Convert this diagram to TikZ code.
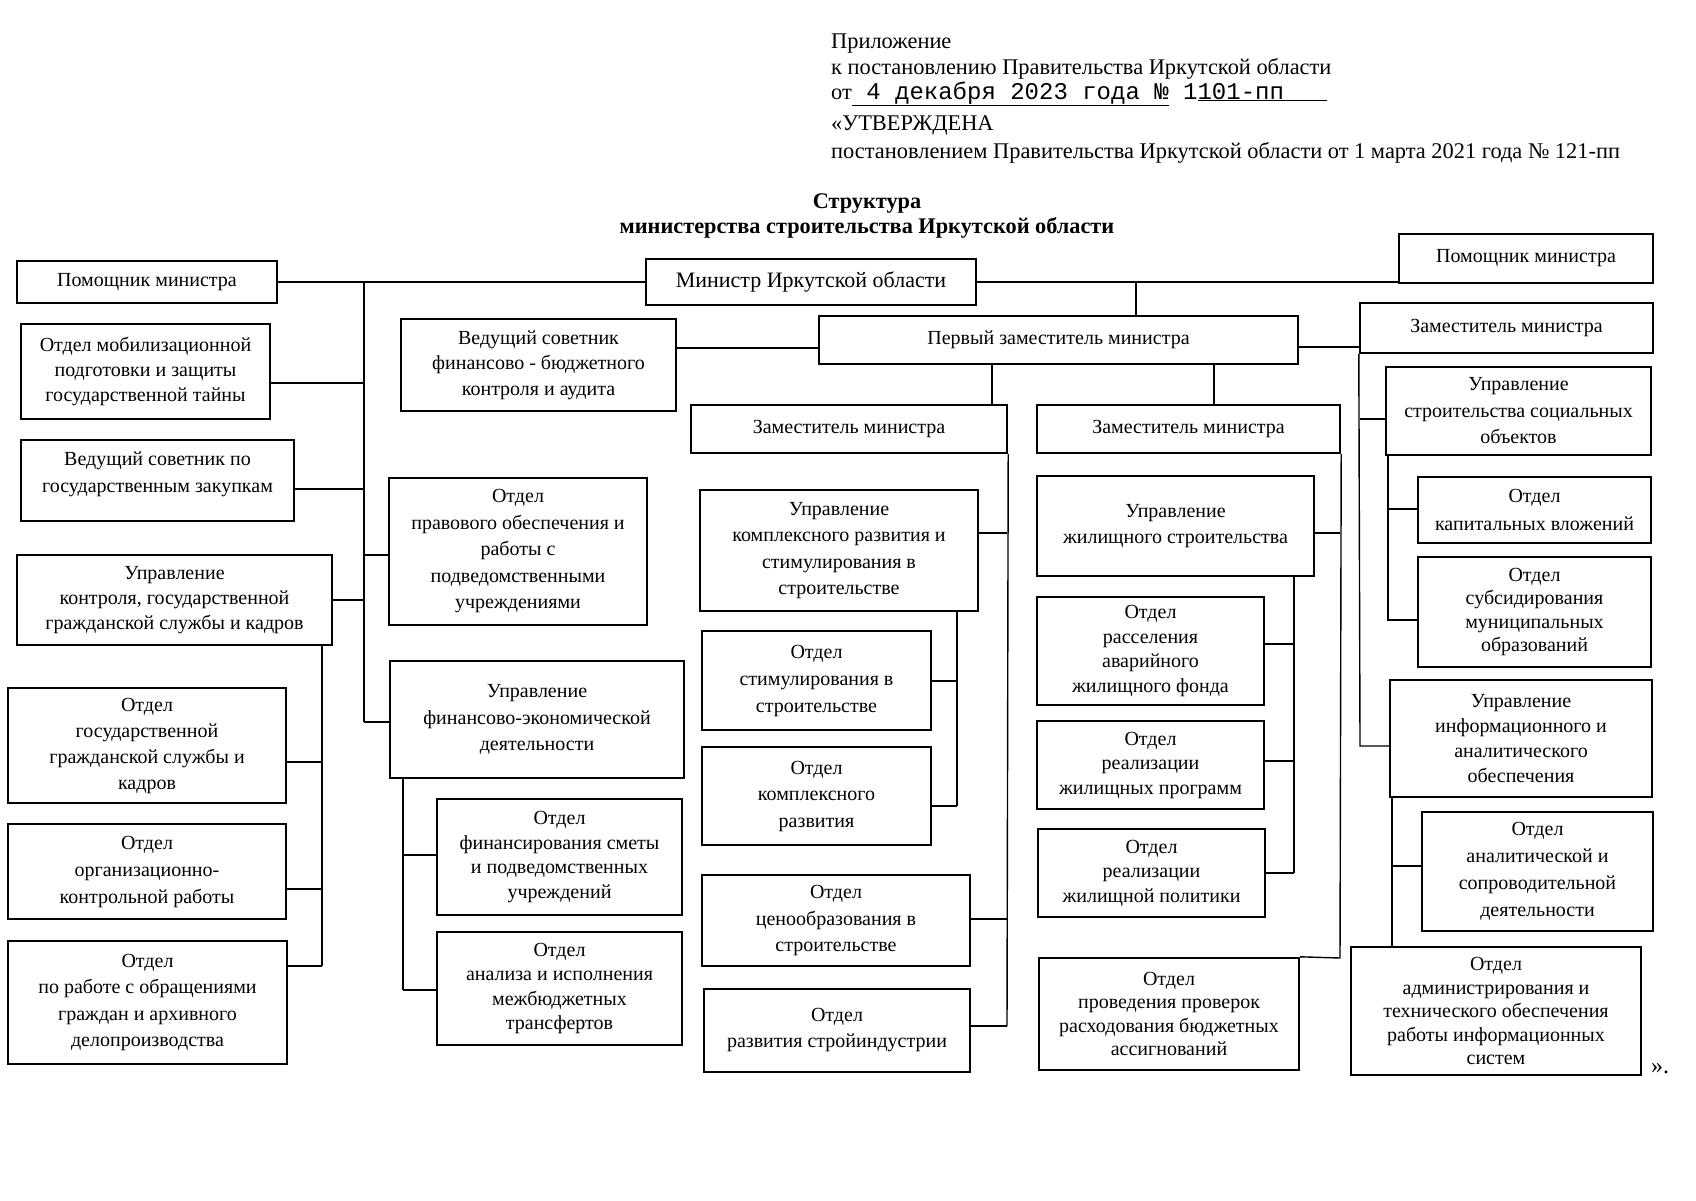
\documentclass[tikz,border=0pt]{standalone}
\usepackage{fontspec}
\setmainfont{Liberation Serif}
\newfontfamily\monof{Liberation Mono}
\usetikzlibrary{calc}
\tikzset{
  orgbox/.style={draw, line width=2.4pt, align=center, inner sep=0pt,
    font=\fontsize{20}{26.5}\selectfont},
  tight/.style={font=\fontsize{20}{23.5}\selectfont},
  mid/.style={font=\fontsize{20}{24.5}\selectfont},
  conn/.style={line width=1.4pt},
  hdr/.style={anchor=base west, inner sep=0pt, font=\fontsize{22.4}{26}\selectfont},
  ttl/.style={anchor=base, inner sep=0pt, font=\fontsize{22.3}{26}\selectfont\bfseries}
}
\newcommand\bx[7][]{%
  \node[orgbox,#1, minimum width={(#5)-(#3)}, minimum height={(#6)-(#4)}]
    (#2) at ({((#3)+(#5))/2},{((#4)+(#6))/2}) {#7};}
\begin{document}
\begin{tikzpicture}[x=1pt,y=-1pt]
\useasboundingbox[fill=white] (0,0) rectangle (1696,1200);

% header
\node[hdr] (h1) at (831,48) {Приложение};
\node[hdr] (h2) at (831,74) {к постановлению Правительства Иркутской области};
\node[hdr] (h3) at (831,99) {от\underline{\monof\fontsize{24}{26}\selectfont\ 4 декабря 2023 года №}{\monof\fontsize{24}{26}\selectfont\ 1\underline{101-пп\ \ \ }}};
\node[hdr] (h4) at (831,130) {«УТВЕРЖДЕНА};
\node[hdr] (h5) at (831,158) {постановлением Правительства Иркутской области от 1 марта 2021 года № 121-пп};
\node[ttl] (t1) at (867,208) {Структура};
\node[ttl] (t2) at (867,233) {министерства строительства Иркутской области};

% boxes
\bx{pomL}{17}{261}{277}{303}{Помощник министра}
\bx[font=\fontsize{22}{26}\selectfont]{min}{646}{259}{976}{305}{Министр Иркутской области}
\bx{pomR}{1399}{234}{1653}{283}{Помощник министра}
\bx[font=\fontsize{20}{25.4}\selectfont]{mob}{21}{324}{270}{419}{Отдел мобилизационной\\подготовки и защиты\\государственной тайны}
\bx[font=\fontsize{20}{25.4}\selectfont]{vedFin}{401}{319}{676}{411}{Ведущий советник\\финансово - бюджетного\\контроля и аудита}
\bx{perv}{819}{316}{1298}{364}{Первый заместитель министра}
\bx{zamR}{1360}{303}{1653}{353}{Заместитель министра}
\bx{vedZak}{21}{440}{294}{521}{Ведущий советник по\\государственным закупкам\\[-10pt]}
\bx{zamML}{691}{405}{1007}{453}{Заместитель министра}
\bx{zamMR}{1037}{405}{1340}{453}{Заместитель министра}
\bx{uprSoc}{1386}{367}{1651}{455}{Управление\\строительства социальных\\объектов}
\bx{otdPrav}{389}{478}{647}{625}{Отдел\\правового обеспечения и\\работы с\\подведомственными\\учреждениями}
\bx{uprKomp}{700}{490}{978}{611}{Управление\\комплексного развития и\\стимулирования в\\строительстве}
\bx{uprZhil}{1037}{476}{1314}{576}{Управление\\жилищного строительства}
\bx[font=\fontsize{20}{28}\selectfont]{otdKap}{1418}{477}{1651}{543}{Отдел\\капитальных вложений}
\bx[font=\fontsize{20}{25.4}\selectfont]{uprKontr}{17}{555}{332}{645}{Управление\\контроля, государственной\\гражданской службы и кадров}
\bx[tight]{otdSubs}{1418}{557}{1651}{667}{Отдел\\субсидирования\\муниципальных\\образований}
\bx[font=\fontsize{20}{27}\selectfont]{otdStim}{702}{631}{931}{730}{Отдел\\стимулирования в\\строительстве}
\bx[mid]{otdRass}{1037}{597}{1264}{705}{Отдел\\расселения\\аварийного\\жилищного фонда}
\bx{uprFin}{390}{661}{684}{778}{Управление\\финансово-экономической\\деятельности}
\bx[font=\fontsize{20}{25}\selectfont]{uprInf}{1390}{680}{1652}{797}{Управление\\информационного и\\аналитического\\обеспечения}
\bx[font=\fontsize{20}{26}\selectfont]{otdGos}{8}{688}{286}{803}{Отдел\\государственной\\гражданской службы и\\кадров}
\bx[mid]{otdRealProg}{1037}{721}{1264}{809}{Отдел\\реализации\\жилищных программ}
\bx{otdKompR}{702}{747}{931}{845}{Отдел\\комплексного\\развития}
\bx[mid]{otdFinSm}{437}{799}{682}{915}{Отдел\\финансирования сметы\\и подведомственных\\учреждений}
\bx[font=\fontsize{20}{27}\selectfont]{otdOrg}{8}{824}{286}{919}{Отдел\\организационно-\\контрольной работы}
\bx[font=\fontsize{20}{27}\selectfont]{otdAnal}{1422}{812}{1653}{931}{Отдел\\аналитической и\\сопроводительной\\деятельности}
\bx[mid]{otdRealPol}{1038}{829}{1265}{917}{Отдел\\реализации\\жилищной политики}
\bx{otdCen}{702}{875}{970}{966}{Отдел\\ценообразования в\\строительстве}
\bx{otdObr}{8}{941}{287}{1064}{Отдел\\по работе с обращениями\\граждан и архивного\\делопроизводства}
\bx[mid]{otdAnIsp}{437}{932}{682}{1045}{Отдел\\анализа и исполнения\\межбюджетных\\трансфертов}
\bx[tight]{otdProv}{1039}{958}{1299}{1070}{Отдел\\проведения проверок\\расходования бюджетных\\ассигнований}
\bx[tight]{otdAdm}{1351}{947}{1641}{1075}{Отдел\\администрирования и\\технического обеспечения\\работы информационных\\систем}
\bx[font=\fontsize{20}{26}\selectfont]{otdStroy}{704}{989}{970}{1072}{Отдел\\развития стройиндустрии}
\node[hdr, font=\fontsize{24}{26}\selectfont] (endq) at (1651,1073) {».};

% junction coordinates
\coordinate (L0) at (364,282); \coordinate (L1) at (364,383);
\coordinate (L2) at (364,489); \coordinate (L3) at (364,555);
\coordinate (L4) at (364,600); \coordinate (L5) at (364,722);
\coordinate (K1) at (322,762); \coordinate (K2) at (322,889); \coordinate (K3) at (322,966);
\coordinate (F1) at (403,855); \coordinate (F2) at (403,990);
\coordinate (yV) at (0,348); \coordinate (yP) at (0,347);
\coordinate (M1) at (1136,282);
\coordinate (P1) at (992,364); \coordinate (P2) at (1214,364);
\coordinate (A1) at (1007,533); \coordinate (A2) at (1007,919); \coordinate (A3) at (1007,1026);
\coordinate (B1) at (957,681); \coordinate (B2) at (957,806);
\coordinate (C1) at (1340,533); \coordinate (C2) at (1340,958);
\coordinate (D1) at (1294,644); \coordinate (D2) at (1294,761); \coordinate (D3) at (1294,873);
\coordinate (E1) at (1360,419); \coordinate (E2) at (1360,746);
\coordinate (G1) at (1388,509); \coordinate (G2) at (1388,620);
\coordinate (H1) at (1392,866);

% connectors
\begin{scope}[conn]
\draw (pomL.east) -- (pomL.east -| min.west);
\draw (L0) -- (L5);
\draw (L1) -- (L1 -| mob.east);
\draw (L2) -- (L2 -| vedZak.east);
\draw (L3) -- (L3 -| otdPrav.west);
\draw (L4) -- (L4 -| uprKontr.east);
\draw (L5) -- (L5 -| uprFin.west);
\draw (K3 |- uprKontr.south) -- (K3);
\draw (K1) -- (K1 -| otdGos.east);
\draw (K2) -- (K2 -| otdOrg.east);
\draw (K3) -- (K3 -| otdObr.east);
\draw (F2 |- uprFin.south) -- (F2);
\draw (F1) -- (F1 -| otdFinSm.west);
\draw (F2) -- (F2 -| otdAnIsp.west);
\draw (vedFin.east |- yV) -- (perv.west |- yV);
\draw (min.east) -- (min.east -| pomR.west);
\draw (M1) -- (M1 |- perv.north);
\draw (perv.east |- yP) -- (zamR.west |- yP);
\draw (P1 |- perv.south) -- (P1 |- zamML.north);
\draw (P2 |- perv.south) -- (P2 |- zamMR.north);
\draw (zamML.south east) -- (A3);
\draw (A1) -- (A1 -| uprKomp.east);
\draw (A2) -- (A2 -| otdCen.east);
\draw (A3) -- (A3 -| otdStroy.east);
\draw (B2 |- uprKomp.south) -- (B2);
\draw (B1) -- (B1 -| otdStim.east);
\draw (B2) -- (B2 -| otdKompR.east);
\draw (zamMR.south east) -- (C2) -- (otdProv.north east);
\draw (C1) -- (C1 -| uprZhil.east);
\draw (D3 |- uprZhil.south) -- (D3);
\draw (D1) -- (D1 -| otdRass.east);
\draw (D2) -- (D2 -| otdRealProg.east);
\draw (D3) -- (D3 -| otdRealPol.east);
\draw (zamR.south west) -- (E2) -- (E2 -| uprInf.west);
\draw (E1) -- (E1 -| uprSoc.west);
\draw (G2 |- uprSoc.south) -- (G2) -- (G2 -| otdSubs.west);
\draw (G1) -- (G1 -| otdKap.west);
\draw (H1 |- uprInf.south) -- (H1 |- otdAdm.north);
\draw (H1) -- (H1 -| otdAnal.west);
\end{scope}
\end{tikzpicture}
\end{document}
